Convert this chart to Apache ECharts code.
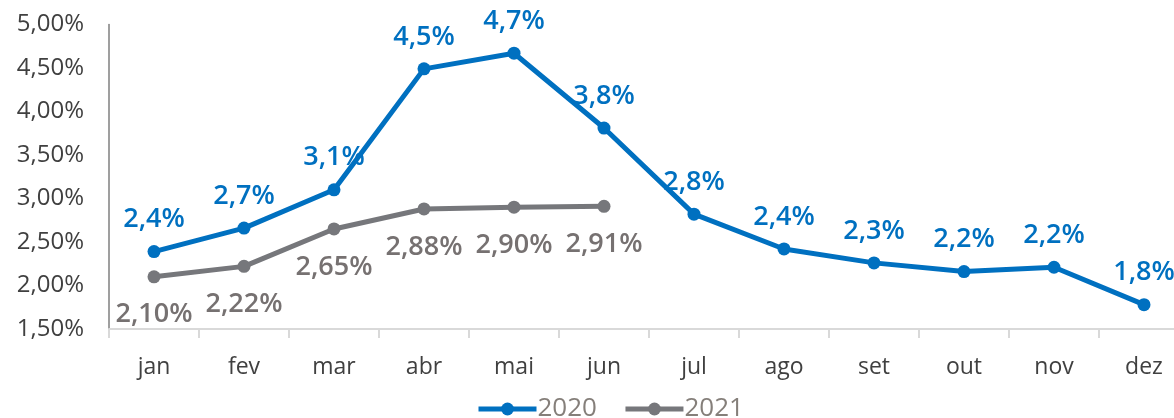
<!DOCTYPE html>
<html>
<head>
<meta charset="utf-8">
<script src="https://cdn.jsdelivr.net/npm/echarts@6/dist/echarts.min.js"></script>
<style>
html,body{margin:0;padding:0;background:#fff;}
#c{width:1174px;height:418px;}
</style>
</head>
<body>
<div id="c"></div>
<script>
const categories = ['jan','fev','mar','abr','mai','jun','jul','ago','set','out','nov','dez'];
const values2020 = [2.39, 2.66, 3.10, 4.49, 4.67, 3.81, 2.82, 2.42, 2.26, 2.16, 2.21, 1.78];
const values2021 = [2.10, 2.22, 2.65, 2.88, 2.90, 2.91];
const seriesNames = ['2020', '2021'];
const yMin = 1.5, yMax = 5, yStep = 0.5;

const FONT = 'Open Sans';
const BLUE = '#0070C0';
const GRAY = '#76777B';
const GRAYTXT = '#767171';

const fmt = (v, d) => v.toFixed(d).replace('.', ',') + '%';

const chart = echarts.init(document.getElementById('c'));
chart.setOption({
  animation: false,
  textStyle: { fontFamily: FONT },
  grid: { left: 109, right: -15, top: 24.5, bottom: 89, containLabel: false, outerBoundsMode: 'none' },
  legend: {
    left: 476, top: 396, padding: 0,
    itemWidth: 58, itemHeight: 16, itemGap: 26,
    lineStyle: { width: 5 },
    textStyle: { fontFamily: FONT, fontSize: 26, color: '#857F7A', padding: [0, 0, 0, -4] },
    data: seriesNames
  },
  xAxis: {
    type: 'category',
    data: categories,
    boundaryGap: true,
    axisLine: { lineStyle: { color: '#D9D9D9', width: 2 } },
    axisTick: { show: true, length: 9, lineStyle: { color: '#D9D9D9', width: 2 } },
    axisLabel: { fontFamily: FONT, fontSize: 23, color: '#404040', margin: 27 },
    splitLine: { show: false }
  },
  yAxis: {
    type: 'value',
    min: yMin, max: yMax, interval: yStep,
    axisLine: { show: true, lineStyle: { color: '#7F7F7F', width: 1.5 } },
    axisTick: { show: false },
    splitLine: { show: false },
    axisLabel: { fontFamily: FONT, fontSize: 24, color: '#404040', margin: 25, formatter: v => fmt(v, 2) }
  },
  series: [
    {
      name: seriesNames[0], type: 'line', data: values2020,
      symbol: 'circle', symbolSize: 13,
      lineStyle: { color: BLUE, width: 5 },
      itemStyle: { color: BLUE },
      label: { show: true, position: 'top', distance: 12, fontFamily: FONT, fontSize: 27, fontWeight: 600, color: BLUE,
        formatter: p => fmt(p.value, 1) }
    },
    {
      name: seriesNames[1], type: 'line', data: values2021,
      symbol: 'circle', symbolSize: 13,
      lineStyle: { color: GRAY, width: 5 },
      itemStyle: { color: GRAY },
      label: { show: true, position: 'bottom', distance: 18, fontFamily: FONT, fontSize: 27, fontWeight: 600, color: GRAYTXT,
        formatter: p => fmt(p.value, 2) }
    }
  ]
});
</script>
</body>
</html>
